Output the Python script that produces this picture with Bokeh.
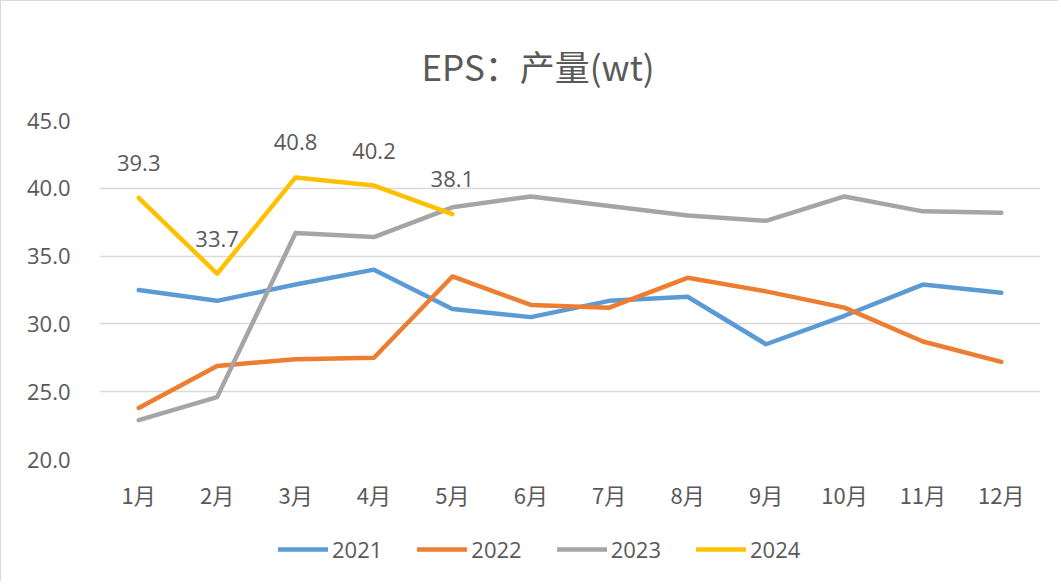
from bokeh.plotting import figure
from bokeh.models import (FactorRange, Range1d, ColumnDataSource, LabelSet, Legend,
                          LegendItem, FixedTicker, NumeralTickFormatter, Title)
from bokeh.core.properties import value
from bokeh.layouts import column
from bokeh.embed import file_html
from bokeh.resources import INLINE

months = ["1月", "2月", "3月", "4月", "5月", "6月", "7月", "8月", "9月", "10月", "11月", "12月"]
s2021 = [32.5, 31.7, 32.9, 34.0, 31.1, 30.5, 31.7, 32.0, 28.5, 30.6, 32.9, 32.3]
s2022 = [23.8, 26.9, 27.4, 27.5, 33.5, 31.4, 31.2, 33.4, 32.4, 31.2, 28.7, 27.2]
s2023 = [22.9, 24.6, 36.7, 36.4, 38.6, 39.4, 38.7, 38.0, 37.6, 39.4, 38.3, 38.2]
s2024 = [39.3, 33.7, 40.8, 40.2, 38.1]
series_names = ["2021", "2022", "2023", "2024"]
colors = ["#5B9BD5", "#ED7D31", "#A5A5A5", "#FFC000"]
title_text = "EPS：产量(wt)"

FONT = "Noto Sans CJK SC"
NUMFONT = "Open Sans"
TXT = "#595959"
BORDER = "1px solid #d9d9d9"

xr = FactorRange(*months, range_padding=0)

p = figure(width=1058, height=519, x_range=xr,
           y_range=Range1d(20, 45), output_backend="svg", toolbar_location=None,
           min_border_left=98, min_border_right=19, min_border_top=119, min_border_bottom=61)
p.styles = {"border-left": BORDER, "border-top": BORDER}
p.outline_line_color = None
p.background_fill_color = "white"
p.border_fill_color = "white"

p.title = Title(text=title_text, align="left", offset=322, text_font=FONT,
                text_font_size="35px", text_font_style="normal", text_color=TXT, standoff=60)

p.xgrid.grid_line_color = None
p.ygrid.grid_line_color = "#d9d9d9"
p.ygrid.grid_line_width = 1.5

p.yaxis.ticker = FixedTicker(ticks=[20, 25, 30, 35, 40, 45])
p.yaxis.formatter = NumeralTickFormatter(format="0.0")
for ax in (p.xaxis[0], p.yaxis[0]):
    ax.axis_line_color = None
    ax.major_tick_line_color = None
    ax.minor_tick_line_color = None
    ax.major_tick_out = 0
    ax.major_tick_in = 0
    ax.major_label_text_font_size = "22px"
    ax.major_label_text_color = TXT
p.yaxis.major_label_text_font = NUMFONT
p.xaxis.major_label_text_font = FONT
p.yaxis.major_label_standoff = 29
p.xaxis.major_label_standoff = 18

# legend strip (separate canvas so the legend is not clipped by the plot frame)
q = figure(width=1058, height=62, x_range=xr, y_range=Range1d(0, 1),
           output_backend="svg", toolbar_location=None,
           min_border_left=98, min_border_right=19, min_border_top=0, min_border_bottom=0)
q.styles = {"border-left": BORDER}
q.outline_line_color = None
q.axis.visible = False
q.grid.visible = False
q.background_fill_color = "white"
q.border_fill_color = "white"

items = []
all_series = [s2021, s2022, s2023, s2024]
for name, vals, col in zip(series_names, all_series, colors):
    src = ColumnDataSource(dict(x=months[:len(vals)], y=vals))
    p.line("x", "y", source=src, line_color=col, line_width=4.5,
           line_cap="round", line_join="round")
    rq = q.line("x", "y", source=src, line_color=col, line_width=4.5,
                line_cap="round", line_join="round")
    items.append(LegendItem(label=name, renderers=[rq]))

lab_src = ColumnDataSource(dict(x=months[:len(s2024)], y=s2024,
                                t=[f"{v:.1f}" for v in s2024]))
p.add_layout(LabelSet(x="x", y="y", text="t", source=lab_src, y_offset=35,
                      text_align="center", text_baseline="middle",
                      text_font=value(NUMFONT), text_font_size=value("22px"),
                      text_color=TXT))

legend = Legend(items=items, orientation="horizontal", location=(179, 17),
                glyph_width=50, glyph_height=20, label_standoff=4, spacing=35,
                padding=0, margin=0, border_line_color=None, background_fill_alpha=0,
                label_text_font=NUMFONT, label_text_font_size="22px", label_text_color=TXT)
q.add_layout(legend, "center")

layout = column(p, q, spacing=0)
open("out.html", "w").write(file_html(layout, INLINE))
